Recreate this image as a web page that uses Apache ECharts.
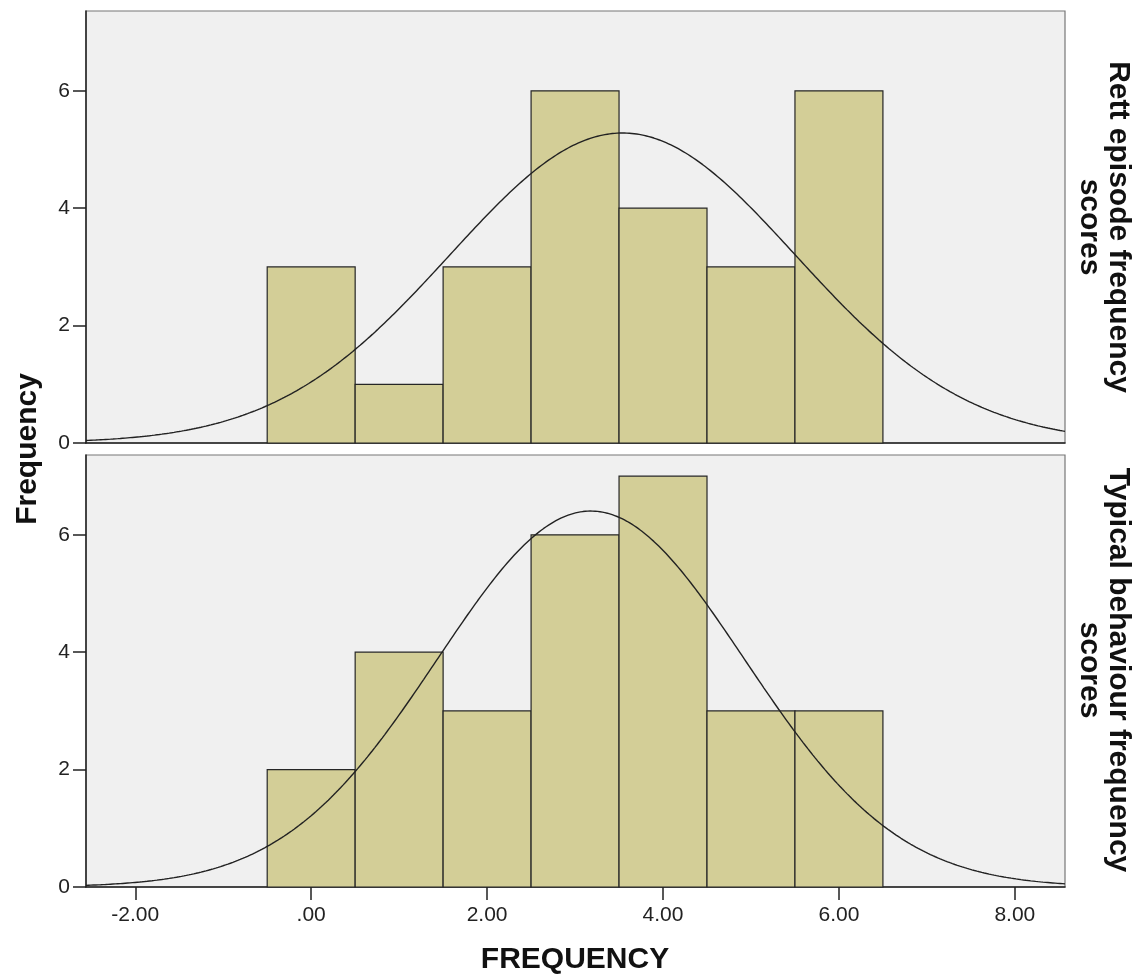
<!DOCTYPE html>
<html>
<head>
<meta charset="utf-8">
<script src="https://cdn.jsdelivr.net/npm/echarts@6/dist/echarts.min.js"></script>
<style>
html,body{margin:0;padding:0;background:#fff;}
#c{width:1144px;height:980px;}
</style>
</head>
<body>
<div id="c"></div>
<script>
// ---- data ----
const binCenters = [0, 1, 2, 3, 4, 5, 6];
const rettCounts = [3, 1, 3, 6, 4, 3, 6];
const typicalCounts = [2, 4, 3, 6, 7, 3, 3];
// normal-curve parameters [mean, sd, N] (as drawn on each panel)
const rettNormal = [3.54, 1.964, 26];
const typicalNormal = [3.18, 1.744, 28];
const xTicks = [-2, 0, 2, 4, 6, 8];
const yTicks = [0, 2, 4, 6];
const panelTitles = ['Rett episode frequency\nscores', 'Typical behaviour frequency\nscores'];

const X_MIN = -2.56, X_MAX = 8.57, Y_MAX = 7.36, BIN_W = 1;
const FONT = '"Liberation Sans", Arial, sans-serif';

function normalCurve(p) {
  const [m, s, n] = p;
  const pts = [];
  for (let i = 0; i <= 400; i++) {
    const x = X_MIN + (X_MAX - X_MIN) * i / 400;
    const y = n * BIN_W / (s * Math.sqrt(2 * Math.PI)) * Math.exp(-0.5 * ((x - m) / s) ** 2);
    pts.push([x, y]);
  }
  return pts;
}

function renderBar(params, api) {
  const x = api.value(0), y = api.value(1);
  const p0 = api.coord([x - BIN_W / 2, y]);
  const p1 = api.coord([x + BIN_W / 2, 0]);
  return {
    type: 'rect',
    shape: { x: p0[0], y: p0[1], width: p1[0] - p0[0], height: p1[1] - p0[1] },
    style: { fill: '#d3ce97', stroke: '#262626', lineWidth: 1.2 }
  };
}

const grids = [
  { left: 86, right: 79, top: 11, height: 432 },
  { left: 86, right: 79, top: 455, height: 432 }
].map(g => Object.assign(g, { show: true, backgroundColor: '#f0f0f0', borderColor: '#777', borderWidth: 1.2 }));

function xAxis(idx, showLabels) {
  return {
    type: 'value', gridIndex: idx, min: X_MIN, max: X_MAX,
    splitLine: { show: false },
    axisLine: { show: true, onZero: false, lineStyle: { color: '#222', width: 1.5 } },
    axisTick: { show: showLabels, length: 13, customValues: xTicks, lineStyle: { color: '#222', width: 1.5 } },
    axisLabel: {
      show: showLabels, customValues: xTicks, margin: 18,
      fontFamily: FONT, fontSize: 21, color: '#222',
      formatter: v => (v === 0 ? '.00' : v.toFixed(2))
    }
  };
}
function yAxis(idx) {
  return {
    type: 'value', gridIndex: idx, min: 0, max: Y_MAX,
    splitLine: { show: false },
    axisLine: { show: true, onZero: false, lineStyle: { color: '#222', width: 1.5 } },
    axisTick: { show: true, length: 13, customValues: yTicks, lineStyle: { color: '#222', width: 1.5 } },
    axisLabel: { customValues: yTicks, margin: 16, fontFamily: FONT, fontSize: 21, color: '#222' }
  };
}

const option = {
  animation: false,
  grid: grids,
  xAxis: [xAxis(0, false), xAxis(1, true)],
  yAxis: [yAxis(0), yAxis(1)],
  series: [
    { type: 'custom', xAxisIndex: 0, yAxisIndex: 0, renderItem: renderBar, encode: { x: 0, y: 1 },
      data: binCenters.map((c, i) => [c, rettCounts[i]]), z: 2 },
    { type: 'custom', xAxisIndex: 1, yAxisIndex: 1, renderItem: renderBar, encode: { x: 0, y: 1 },
      data: binCenters.map((c, i) => [c, typicalCounts[i]]), z: 2 },
    { type: 'line', xAxisIndex: 0, yAxisIndex: 0, data: normalCurve(rettNormal), showSymbol: false,
      lineStyle: { color: '#222', width: 1.4 }, z: 3, silent: true },
    { type: 'line', xAxisIndex: 1, yAxisIndex: 1, data: normalCurve(typicalNormal), showSymbol: false,
      lineStyle: { color: '#222', width: 1.4 }, z: 3, silent: true }
  ],
  graphic: [
    { type: 'text', x: 1104, y: 227, rotation: -Math.PI / 2,
      style: { text: panelTitles[0], font: 'bold 30px ' + FONT, textAlign: 'center', textVerticalAlign: 'middle', lineHeight: 29, fill: '#111' } },
    { type: 'text', x: 1104, y: 670, rotation: -Math.PI / 2,
      style: { text: panelTitles[1], font: 'bold 30px ' + FONT, textAlign: 'center', textVerticalAlign: 'middle', lineHeight: 29, fill: '#111' } },
    { type: 'text', x: 28, y: 449, rotation: Math.PI / 2,
      style: { text: 'Frequency', font: 'bold 30px ' + FONT, textAlign: 'center', textVerticalAlign: 'middle', fill: '#111' } },
    { type: 'text', x: 575, y: 960,
      style: { text: 'FREQUENCY', font: 'bold 30px ' + FONT, textAlign: 'center', textVerticalAlign: 'middle', fill: '#111' } }
  ]
};

echarts.init(document.getElementById('c'), null, { renderer: 'canvas' }).setOption(option);
</script>
</body>
</html>
